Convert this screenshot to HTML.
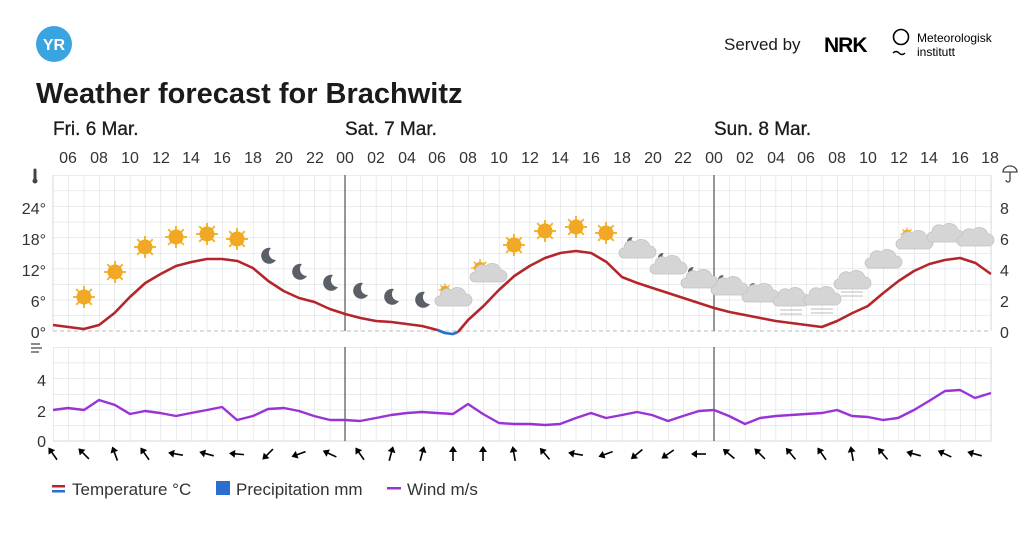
<!DOCTYPE html>
<html><head><meta charset="utf-8"><style>
body{margin:0;background:#fff;width:1024px;height:530px;overflow:hidden;font-family:"Liberation Sans",sans-serif;}
svg text{font-family:"Liberation Sans",sans-serif;}
</style></head><body>
<svg width="1024" height="530" viewBox="0 0 1024 530" xmlns="http://www.w3.org/2000/svg">
<defs>
<pattern id="g1" x="53" y="175" width="15.375" height="15.6" patternUnits="userSpaceOnUse">
<path d="M0 0V15.6M0 0H15.375" stroke="#d3d7de" stroke-width="1" fill="none"/></pattern>
<pattern id="g2" x="53" y="347" width="15.375" height="15.67" patternUnits="userSpaceOnUse">
<path d="M0 0V15.67M0 0H15.375" stroke="#d3d7de" stroke-width="1" fill="none"/></pattern>
<g id="sun"><g stroke="#f2b632" stroke-width="2"><path d="M0-11V11M-11 0H11M-7.8-7.8L7.8 7.8M-7.8 7.8L7.8-7.8"/></g><circle r="7.5" fill="#f0a825"/></g>
<g id="moon"><path d="M3-8A8 8 0 1 0 8 4 7 7 0 0 1 3-8Z" fill="#5b5f66"/></g>
<g id="cloud"><path d="M-13 6h26a6 6 0 0 0 0-12 9 9 0 0 0-15-4 7 7 0 0 0-11 6 5 5 0 0 0 0 10z" fill="#d5d5d5" stroke="#c4c4c4" stroke-width=".8"/></g>
<g id="arr"><path d="M0 7V-5" stroke="#000" stroke-width="1.6"/><path d="M0-8L-4-2H4Z" fill="#000"/></g>
</defs>
<circle cx="54" cy="44" r="18" fill="#3aa4e0"/>
<text x="54" y="50" font-size="16" fill="#fff" text-anchor="middle" font-weight="bold">YR</text>
<text x="724" y="50" font-size="17" fill="#1b1b1b">Served by</text>
<text x="824" y="52" font-size="21" font-weight="bold" fill="#000" letter-spacing="-1">NRK</text>
<circle cx="901" cy="37" r="7.5" fill="none" stroke="#000" stroke-width="1.6"/>
<path d="M893 53q3-3 6 0t6 0" stroke="#000" fill="none" stroke-width="1.4"/>
<text x="917" y="42" font-size="12" fill="#000">Meteorologisk</text>
<text x="917" y="56" font-size="12" fill="#000">institutt</text>
<text x="36" y="103" font-size="29" font-weight="bold" fill="#1b1b1b">Weather forecast for Brachwitz</text>
<g font-size="19" fill="#1b1b1b" stroke="#1b1b1b" stroke-width="0.3"><text x="53" y="135">Fri. 6 Mar.</text><text x="345" y="135">Sat. 7 Mar.</text><text x="714" y="135">Sun. 8 Mar.</text></g>
<g font-size="16" fill="#333" text-anchor="middle">
<text x="68" y="163">06</text><text x="99" y="163">08</text><text x="130" y="163">10</text><text x="161" y="163">12</text><text x="191" y="163">14</text><text x="222" y="163">16</text><text x="253" y="163">18</text><text x="284" y="163">20</text><text x="315" y="163">22</text><text x="345" y="163">00</text><text x="376" y="163">02</text><text x="407" y="163">04</text><text x="437" y="163">06</text><text x="468" y="163">08</text><text x="499" y="163">10</text><text x="530" y="163">12</text><text x="560" y="163">14</text><text x="591" y="163">16</text><text x="622" y="163">18</text><text x="653" y="163">20</text><text x="683" y="163">22</text><text x="714" y="163">00</text><text x="745" y="163">02</text><text x="776" y="163">04</text><text x="806" y="163">06</text><text x="837" y="163">08</text><text x="868" y="163">10</text><text x="899" y="163">12</text><text x="929" y="163">14</text><text x="960" y="163">16</text><text x="990" y="163">18</text></g>
<rect x="53" y="175" width="938" height="156" fill="url(#g1)"/>
<path d="M53 175V331M991 175V331" stroke="#d3d7de"/>
<path d="M53 331H991" stroke="#bbb" stroke-dasharray="4 3"/>
<rect x="53" y="347" width="938" height="94" fill="url(#g2)"/>
<path d="M991 347V441M53 441H991" stroke="#d3d7de"/>
<path d="M345 175V331M714 175V331M345 347V441M714 347V441" stroke="#555" stroke-width="1.2"/>
<g font-size="16" fill="#333" text-anchor="end">
<text x="46" y="214">24°</text><text x="46" y="245">18°</text><text x="46" y="276">12°</text><text x="46" y="307">6°</text><text x="46" y="338">0°</text>
<text x="46" y="386">4</text><text x="46" y="417">2</text><text x="46" y="447">0</text></g>
<g font-size="16" fill="#333"><text x="1000" y="214">8</text><text x="1000" y="245">6</text><text x="1000" y="276">4</text><text x="1000" y="307">2</text><text x="1000" y="338">0</text></g>
<path d="M35 170v9" stroke="#444" stroke-width="3" stroke-linecap="round"/><circle cx="35" cy="181" r="2.5" fill="#444"/>
<path d="M1003 172a7 6 0 0 1 14 0z M1010 172v8a2 2 0 0 1-4 0" stroke="#444" fill="none" stroke-width="1.3"/>
<path d="M31 344h9M31 348h11M31 352h8" stroke="#444" stroke-width="1.3"/>
<g>
<use href="#sun" x="84" y="297"/><use href="#sun" x="115" y="272"/><use href="#sun" x="145" y="247"/><use href="#sun" x="176" y="237"/><use href="#sun" x="207" y="234"/><use href="#sun" x="237" y="239"/>
<use href="#moon" x="268" y="256"/><use href="#moon" x="299" y="272"/><use href="#moon" x="330" y="283"/><use href="#moon" x="360" y="291"/><use href="#moon" x="391" y="297"/><use href="#moon" x="422" y="300"/>
<g transform="translate(445,290) scale(.6)"><use href="#sun"/></g><use href="#cloud" x="453" y="300"/>
<g transform="translate(480,268) scale(.8)"><use href="#sun"/></g><use href="#cloud" x="488" y="276"/>
<use href="#sun" x="514" y="245"/><use href="#sun" x="545" y="231"/><use href="#sun" x="576" y="227"/><use href="#sun" x="606" y="233"/>
<g transform="translate(631,242) scale(.6)"><use href="#moon"/></g><use href="#cloud" x="637" y="252"/>
<g transform="translate(662,258) scale(.6)"><use href="#moon"/></g><use href="#cloud" x="668" y="268"/>
<g transform="translate(692,272) scale(.6)"><use href="#moon"/></g><use href="#cloud" x="699" y="282"/>
<g transform="translate(722,280) scale(.6)"><use href="#moon"/></g><use href="#cloud" x="729" y="289"/>
<g transform="translate(753,288) scale(.6)"><use href="#moon"/></g><use href="#cloud" x="760" y="296"/>
<use href="#cloud" x="791" y="300"/><use href="#cloud" x="822" y="299"/><use href="#cloud" x="852" y="283"/>
<path d="M780 310h22M780 314h22M811 309h22M811 313h22M841 292h22M841 296h22" stroke="#bbb" stroke-width="1"/>
<use href="#cloud" x="883" y="262"/>
<g transform="translate(907,234) scale(.6)"><use href="#sun"/></g><use href="#cloud" x="914" y="243"/>
<use href="#cloud" x="945" y="236"/><use href="#cloud" x="975" y="240"/>
</g>
<polyline fill="none" stroke="#b4262a" stroke-width="2.6" stroke-linejoin="round" points="53,325 68.4,327 83.8,329 99.1,325 114.5,313 129.9,297 145.3,283 160.6,274 176,266 191.4,262 206.8,259 222.1,259 237.5,261 252.9,268 268.3,281 283.6,291 299,298 314.4,302 329.8,309 345.1,314 360.5,318 375.9,321 391.3,322 406.6,324 422,326 437.4,330 445,333"/>
<polyline fill="none" stroke="#2a6fd0" stroke-width="2.6" points="437.4,330 445,333 452.8,334 458,332"/>
<polyline fill="none" stroke="#b4262a" stroke-width="2.6" stroke-linejoin="round" points="458,332 468.1,320 483.5,306 498.9,290 514.3,276 529.6,266 545,258 560.4,253 575.8,251 591.1,253 606.5,262 621.9,277 637.3,283 652.6,288 668,293 683.4,298 698.8,303 714.1,308 729.5,312 744.9,315 760.3,318 775.6,321 791,323 806.4,325 821.8,327 837.1,321 852.5,313 867.9,306 883.3,293 898.6,281 914,271 929.4,264 944.8,260 960.1,258 975.5,263 990.9,274"/>
<polyline fill="none" stroke="#9a33d6" stroke-width="2.4" stroke-linejoin="round" points="53,410 68,408 84,410 99,400 115,405 130,414 145,411 160,413 176,416 191,413 207,410 222,407 237,420 253,416 268,409 284,408 299,411 314,416 330,420 345,420 360,421 376,418 391,415 407,413 422,412 437,413 453,414 468,404 483,414 499,423 514,424 530,424 545,425 560,424 576,418 591,413 606,418 622,415 637,412 652,415 668,421 683,416 699,411 714,410 729,416 745,424 760,418 776,416 791,415 806,414 822,413 837,410 852,416 868,417 883,420 898,418 914,410 929,401 945,391 960,390 975,398 991,393"/>
<g>
<use href="#arr" transform="translate(53,454) rotate(-35)"/><use href="#arr" transform="translate(84,454) rotate(-45)"/><use href="#arr" transform="translate(115,454) rotate(-20)"/><use href="#arr" transform="translate(145,454) rotate(-35)"/>
<use href="#arr" transform="translate(176,454) rotate(-80)"/><use href="#arr" transform="translate(207,454) rotate(-75)"/><use href="#arr" transform="translate(237,454) rotate(-85)"/><use href="#arr" transform="translate(268,454) rotate(-135)"/><use href="#arr" transform="translate(299,454) rotate(-110)"/><use href="#arr" transform="translate(330,454) rotate(-65)"/>
<use href="#arr" transform="translate(360,454) rotate(-35)"/><use href="#arr" transform="translate(391,454) rotate(15)"/><use href="#arr" transform="translate(422,454) rotate(15)"/><use href="#arr" transform="translate(453,454) rotate(0)"/><use href="#arr" transform="translate(483,454) rotate(0)"/><use href="#arr" transform="translate(514,454) rotate(-10)"/><use href="#arr" transform="translate(545,454) rotate(-40)"/>
<use href="#arr" transform="translate(576,454) rotate(-80)"/><use href="#arr" transform="translate(606,454) rotate(-110)"/><use href="#arr" transform="translate(637,454) rotate(-130)"/><use href="#arr" transform="translate(668,454) rotate(-125)"/><use href="#arr" transform="translate(699,454) rotate(-90)"/>
<use href="#arr" transform="translate(729,454) rotate(-50)"/><use href="#arr" transform="translate(760,454) rotate(-45)"/><use href="#arr" transform="translate(791,454) rotate(-40)"/><use href="#arr" transform="translate(822,454) rotate(-35)"/><use href="#arr" transform="translate(852,454) rotate(-10)"/><use href="#arr" transform="translate(883,454) rotate(-40)"/>
<use href="#arr" transform="translate(914,454) rotate(-75)"/><use href="#arr" transform="translate(945,454) rotate(-65)"/><use href="#arr" transform="translate(975,454) rotate(-75)"/>
</g>
<rect x="52" y="485" width="13" height="2.5" fill="#b4262a"/><rect x="52" y="490" width="13" height="2.5" fill="#2a6fd0"/>
<text x="72" y="495" font-size="17" fill="#333">Temperature °C</text>
<rect x="216" y="481" width="14" height="14" fill="#2a6fd0"/>
<text x="236" y="495" font-size="17" fill="#333">Precipitation mm</text>
<rect x="387" y="487" width="14" height="2.5" fill="#9a33d6"/>
<text x="407" y="495" font-size="17" fill="#333">Wind m/s</text>
</svg>
</body></html>
